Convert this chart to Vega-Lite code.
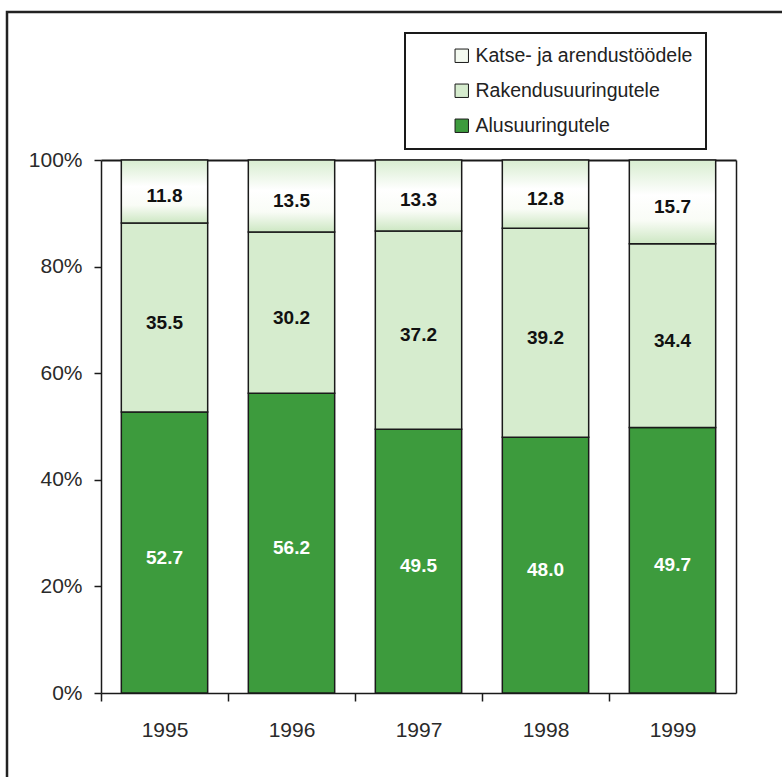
{
  "$schema": "https://vega.github.io/schema/vega-lite/v6.json",
  "autosize": "none",
  "width": 785,
  "height": 775,
  "padding": {"left": 7, "top": 12, "right": -10, "bottom": -10},
  "background": "white",
  "config": {
    "font": "Liberation Sans",
    "view": {"stroke": "#222222", "strokeWidth": 2.5},
    "legend": {"strokeWidth": 2},
    "axis": {"grid": false, "domainColor": "#1a1a1a", "domainWidth": 1.5, "tickColor": "#1a1a1a", "tickWidth": 1.5, "labelColor": "#2a2a2a", "labelFont": "Liberation Sans", "title": null}
  },
  "data": {
    "values": [
      {"year": "1995", "s": "Alusuuringutele", "k": 1, "v": 52.7},
      {"year": "1995", "s": "Rakendusuuringutele", "k": 2, "v": 35.5},
      {"year": "1995", "s": "Katse- ja arendustöödele", "k": 3, "v": 11.8},
      {"year": "1996", "s": "Alusuuringutele", "k": 1, "v": 56.2},
      {"year": "1996", "s": "Rakendusuuringutele", "k": 2, "v": 30.2},
      {"year": "1996", "s": "Katse- ja arendustöödele", "k": 3, "v": 13.5},
      {"year": "1997", "s": "Alusuuringutele", "k": 1, "v": 49.5},
      {"year": "1997", "s": "Rakendusuuringutele", "k": 2, "v": 37.2},
      {"year": "1997", "s": "Katse- ja arendustöödele", "k": 3, "v": 13.3},
      {"year": "1998", "s": "Alusuuringutele", "k": 1, "v": 48.0},
      {"year": "1998", "s": "Rakendusuuringutele", "k": 2, "v": 39.2},
      {"year": "1998", "s": "Katse- ja arendustöödele", "k": 3, "v": 12.8},
      {"year": "1999", "s": "Alusuuringutele", "k": 1, "v": 49.7},
      {"year": "1999", "s": "Rakendusuuringutele", "k": 2, "v": 34.4},
      {"year": "1999", "s": "Katse- ja arendustöödele", "k": 3, "v": 15.7}
    ]
  },
  "resolve": {"axis": {"x": "independent", "y": "independent"}},
  "layer": [
    {
      "mark": {"type": "bar", "stroke": "#1a1a1a", "strokeWidth": 1.5},
      "encoding": {
        "x": {
          "field": "year", "type": "nominal", "sort": null,
          "scale": {"range": [94, 729], "paddingInner": 0.32, "paddingOuter": 0.16},
          "axis": {"orient": "bottom", "offset": -94, "labelAngle": 0, "labelFontSize": 21, "tickSize": 8, "labelPadding": 18, "bandPosition": 0.5, "tickOffset": -63.5, "labelOffset": 63.5}
        },
        "y": {
          "field": "v", "type": "quantitative", "stack": "normalize",
          "scale": {"range": [681, 148], "domain": [0, 1], "nice": false},
          "axis": {"orient": "left", "offset": -94, "values": [0, 0.2, 0.4, 0.6, 0.8, 1], "format": ".0%", "labelFontSize": 21, "tickSize": 7, "labelPadding": 12}
        },
        "order": {"field": "k", "type": "quantitative"},
        "color": {
          "condition": {
            "test": "datum.k === 3",
            "value": {
              "gradient": "linear", "x1": 0, "y1": 0, "x2": 0, "y2": 1,
              "stops": [
                {"offset": 0, "color": "#d8edd0"},
                {"offset": 0.42, "color": "#ffffff"},
                {"offset": 0.72, "color": "#f9fcf6"},
                {"offset": 1, "color": "#cde7c3"}
              ]
            }
          },
          "field": "s", "type": "nominal",
          "scale": {
            "domain": ["Katse- ja arendustöödele", "Rakendusuuringutele", "Alusuuringutele"],
            "range": ["#f4faf0", "#d6ecce", "#3d9b3d"]
          },
          "legend": {
            "title": null, "orient": "none", "legendX": 398, "legendY": 21,
            "direction": "vertical", "padding": 13, "strokeColor": "#1a1a1a", "fillColor": "white",
            "labelFontSize": 19.5, "labelColor": "#222222", "labelFont": "Liberation Sans", "labelLimit": 0,
            "symbolType": "square", "symbolSize": 180, "symbolStrokeColor": "#1a1a1a", "symbolStrokeWidth": 1,
            "symbolOpacity": 1, "rowPadding": 14, "labelOffset": 4, "symbolOffset": 34
          }
        }
      }
    },
    {
      "mark": {"type": "text", "fontSize": 19, "fontWeight": "bold", "baseline": "middle", "dy": 5, "font": "Liberation Sans"},
      "encoding": {
        "x": {
          "field": "year", "type": "nominal", "sort": null,
          "axis": {"orient": "top", "offset": -148, "labels": false, "ticks": false, "domainWidth": 2}
        },
        "y": {
          "field": "v", "type": "quantitative", "stack": "normalize", "bandPosition": 0.5,
          "axis": {"orient": "right", "offset": -56, "labels": false, "ticks": false, "values": [0, 1], "domainWidth": 1.5}
        },
        "order": {"field": "k", "type": "quantitative"},
        "text": {"field": "v", "type": "quantitative", "format": ".1f"},
        "color": {"condition": {"test": "datum.k === 1", "value": "white"}, "value": "#111111"}
      }
    }
  ]
}
